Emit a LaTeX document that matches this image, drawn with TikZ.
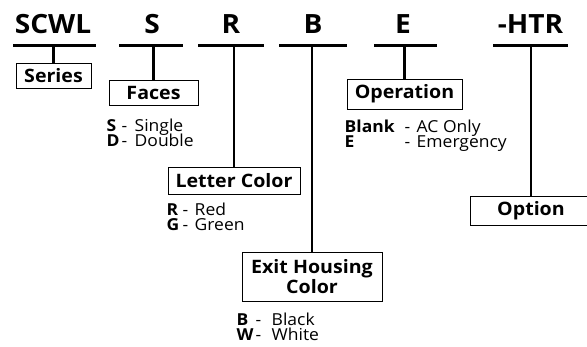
\documentclass[tikz,border=0pt]{standalone}
\usepackage{fontspec}
\setmainfont{Open Sans}[FakeStretch=1.06]
\usetikzlibrary{positioning}
\newcommand\optline[4]{\makebox[#1][l]{\textbf{#3}}\makebox[#2][l]{-}#4}
\lineskiplimit=-20pt

\begin{document}
\begin{tikzpicture}[x=1pt, y=-1pt,
    part/.style={font=\fontsize{26.5}{30}\selectfont\bfseries, anchor=base, inner sep=0pt},
    bar/.style={fill=black, inner sep=0pt, minimum height=3.5pt},
    field/.style={draw, line width=1pt, font=\fontsize{18.5}{20}\selectfont\bfseries,
      inner sep=0pt, align=center},
    choices/.style={font=\fontsize{16.5}{15}\selectfont, inner sep=0pt, align=left},
    stem/.style={line width=2.4pt},
  ]
  \useasboundingbox (0,0) rectangle (587,346);

  % model number parts
  \node[part] (scwl) at (53,33) {SCWL};
  \node[part] (faces) at (152,33) {S};
  \node[part] (letter) at (231,33) {R};
  \node[part] (housing) at (313,33) {B};
  \node[part] (oper) at (403,33) {E};
  \node[part] (htr) at (530.5,33) {-HTR};

  % underlines
  \node[bar, minimum width=83pt] (scwlbar) at (54.5,45.5) {};
  \node[bar, minimum width=64pt] (facesbar) at (151,45.5) {};
  \node[bar, minimum width=66pt] (letterbar) at (231,45.5) {};
  \node[bar, minimum width=68pt] (housingbar) at (313,45.5) {};
  \node[bar, minimum width=63pt] (operbar) at (405.5,45.5) {};
  \node[bar, minimum width=75pt] (htrbar) at (530.5,45.5) {};

  % field boxes
  \node[field, minimum width=75pt, minimum height=25pt] (series) at (53.5,75.5) {Series};
  \node[field, minimum width=89pt, minimum height=25pt] (facesbox) at (153.5,92.5) {Faces};
  \node[field, minimum width=132pt, minimum height=27pt] (letterbox) at (234,180.5) {Letter Color};
  \node[field, minimum width=140pt, minimum height=49pt] (housingbox) at (312,276.5)
    {Exit Housing\\Color};
  \node[field, minimum width=115pt, minimum height=30pt] (operbox) at (404.5,94) {Operation};
  \node[field, minimum width=122pt, minimum height=29pt] (option) at (531,210.5) {Option};

  % choices (base = last line)
  \node[choices, below right=40.5pt and -2pt of facesbox.south west, anchor=base west] (faceslist)
    {\optline{15pt}{13pt}{S}{Single}\\ \optline{15pt}{13pt}{D}{Double}};
  \node[choices, below right=36pt and -1pt of letterbox.south west, anchor=base west] (letterlist)
    {\optline{16pt}{12pt}{R}{Red}\\ \optline{16pt}{12pt}{G}{Green}};
  \node[choices, below right=38.5pt and -5pt of housingbox.south west, anchor=base west] (housinglist)
    {\optline{19pt}{16pt}{B}{Black}\\ \optline{19pt}{16pt}{W}{White}};
  \node[choices, below right=38pt and -2pt of operbox.south west, anchor=base west] (operlist)
    {\optline{60pt}{12pt}{Blank}{AC Only}\\ \optline{60pt}{12pt}{E}{Emergency}};

  % stems
  \draw[stem] (series.north) -- (series.north |- scwlbar.south);
  \draw[stem] (facesbox.north) -- (facesbox.north |- facesbar.south);
  \draw[stem] (letterbox.north) -- (letterbox.north |- letterbar.south);
  \draw[stem] (housingbox.north) -- (housingbox.north |- housingbar.south);
  \draw[stem] (operbox.north) -- (operbox.north |- operbar.south);
  \draw[stem] (option.north) -- (option.north |- htrbar.south);
\end{tikzpicture}
\end{document}
